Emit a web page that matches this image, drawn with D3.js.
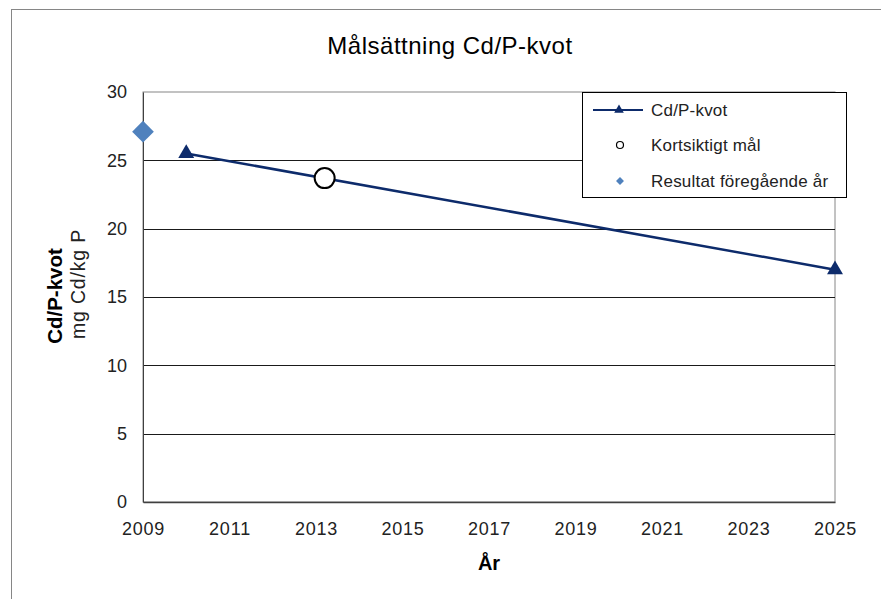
<!DOCTYPE html>
<html>
<head>
<meta charset="utf-8">
<script src="https://cdn.jsdelivr.net/npm/d3@7"></script>
<style>
  body { margin: 0; background: #fff; }
  svg text { font-family: "Liberation Sans", Arial, sans-serif; }
</style>
</head>
<body>
<div id="chart"></div>
<script>
// data
const kvotYears = [2010, 2025];
const kvotValues = [25.5, 17];
const goalYears = [2013.2];
const goalValues = [23.7];
const prevYears = [2009];
const prevValues = [27.1];
const xTicks = [2009, 2011, 2013, 2015, 2017, 2019, 2021, 2023, 2025];
const yTicks = [0, 5, 10, 15, 20, 25, 30];
const legendLabels = ["Cd/P-kvot", "Kortsiktigt mål", "Resultat föregående år"];

const W = 881, H = 599;
const margin = { top: 92, right: 46, bottom: 97, left: 143 };
const width = W - margin.left - margin.right;
const height = H - margin.top - margin.bottom;

const svg = d3.select("#chart").append("svg")
  .attr("width", W).attr("height", H);

// outer chart border
svg.append("rect")
  .attr("x", 11.5).attr("y", 9.5)
  .attr("width", W).attr("height", H)
  .attr("fill", "#fff").attr("stroke", "#868686");

svg.append("text")
  .attr("x", 450).attr("y", 54)
  .attr("text-anchor", "middle")
  .attr("font-size", 24)
  .attr("letter-spacing", 0.5)
  .text("Målsättning Cd/P-kvot");

const g = svg.append("g")
  .attr("transform", "translate(" + margin.left + "," + margin.top + ")");

const x = d3.scaleLinear().domain([2009, 2025]).range([0, width]);
const y = d3.scaleLinear().domain([0, 30]).range([height, 0]);

// plot frame
g.append("rect")
  .attr("x", 0).attr("y", 0)
  .attr("width", width).attr("height", height)
  .attr("fill", "none").attr("stroke", "#868686");

// gridlines
g.selectAll(".grid").data(yTicks.filter(d => d > 0 && d < 30)).enter()
  .append("line")
  .attr("x1", 0).attr("x2", width)
  .attr("y1", d => Math.round(y(d)) + 0.5).attr("y2", d => Math.round(y(d)) + 0.5)
  .attr("stroke", "#1a1a1a").attr("stroke-width", 1);

// axes
const yAxis = g.append("g")
  .call(d3.axisLeft(y).tickValues(yTicks).tickSize(0).tickPadding(16));
yAxis.select(".domain").attr("stroke", "#404040");
yAxis.selectAll("text").attr("font-size", 18).attr("fill", "#222")
  .attr("font-family", "Liberation Sans, Arial, sans-serif");

const xAxis = g.append("g")
  .attr("transform", "translate(0," + height + ")")
  .call(d3.axisBottom(x).tickValues(xTicks).tickFormat(d3.format("d")).tickSize(0).tickPadding(20));
xAxis.select(".domain").attr("stroke", "#404040").attr("stroke-width", 1.5);
xAxis.selectAll("text").attr("font-size", 18).attr("letter-spacing", 0.8).attr("fill", "#222")
  .attr("font-family", "Liberation Sans, Arial, sans-serif");

// axis titles
svg.append("text")
  .attr("x", 489).attr("y", 570)
  .attr("text-anchor", "middle")
  .attr("font-size", 20).attr("font-weight", "bold")
  .text("År");

svg.append("text")
  .attr("transform", "translate(62,296) rotate(-90)")
  .attr("text-anchor", "middle")
  .attr("font-size", 20.5).attr("font-weight", "bold")
  .text("Cd/P-kvot");
svg.append("text")
  .attr("transform", "translate(85,284) rotate(-90)")
  .attr("text-anchor", "middle")
  .attr("font-size", 19.5).attr("letter-spacing", 0.8).attr("fill", "#222")
  .text("mg Cd/kg P");

// series
const navy = "#0d2b6b";
const kvot = kvotYears.map((d, i) => ({ x: d, y: kvotValues[i] }));
g.append("path")
  .datum(kvot)
  .attr("fill", "none").attr("stroke", navy).attr("stroke-width", 2.5)
  .attr("d", d3.line().x(d => x(d.x)).y(d => y(d.y)));

const tri = d3.symbol().type(d3.symbolTriangle).size(110);
g.selectAll(".tri").data(kvot).enter()
  .append("path")
  .attr("transform", d => "translate(" + x(d.x) + "," + y(d.y) + ")")
  .attr("d", tri).attr("fill", navy);

g.selectAll(".goal").data(goalYears.map((d, i) => ({ x: d, y: goalValues[i] }))).enter()
  .append("circle")
  .attr("cx", d => x(d.x)).attr("cy", d => y(d.y)).attr("r", 10)
  .attr("fill", "#fff").attr("stroke", "#000").attr("stroke-width", 2);

const dia = d3.symbol().type(d3.symbolDiamond2).size(300);
g.selectAll(".prev").data(prevYears.map((d, i) => ({ x: d, y: prevValues[i] }))).enter()
  .append("path")
  .attr("transform", d => "translate(" + x(d.x) + "," + y(d.y) + ")")
  .attr("d", dia).attr("fill", "#4f81bd");

// legend
const lg = svg.append("g").attr("transform", "translate(582,92)");
lg.append("rect")
  .attr("x", 0.5).attr("y", 0.5).attr("width", 264).attr("height", 105)
  .attr("fill", "#fff").attr("stroke", "#000");

const rowY = [18, 53, 89];
lg.append("line").attr("x1", 11).attr("x2", 61).attr("y1", rowY[0]).attr("y2", rowY[0])
  .attr("stroke", navy).attr("stroke-width", 2);
lg.append("path").attr("transform", "translate(37," + rowY[0] + ")")
  .attr("d", d3.symbol().type(d3.symbolTriangle).size(40)).attr("fill", navy);
lg.append("circle").attr("cx", 38).attr("cy", rowY[1]).attr("r", 3.5)
  .attr("fill", "#fff").attr("stroke", "#000").attr("stroke-width", 1.2);
lg.append("path").attr("transform", "translate(38," + rowY[2] + ")")
  .attr("d", d3.symbol().type(d3.symbolDiamond2).size(40)).attr("fill", "#4f81bd");

lg.selectAll(".ltxt").data(legendLabels).enter()
  .append("text")
  .attr("x", 69).attr("y", (d, i) => rowY[i] + 6)
  .attr("font-size", 17).attr("letter-spacing", 0.2).attr("fill", "#222")
  .text(d => d);
</script>
</body>
</html>
